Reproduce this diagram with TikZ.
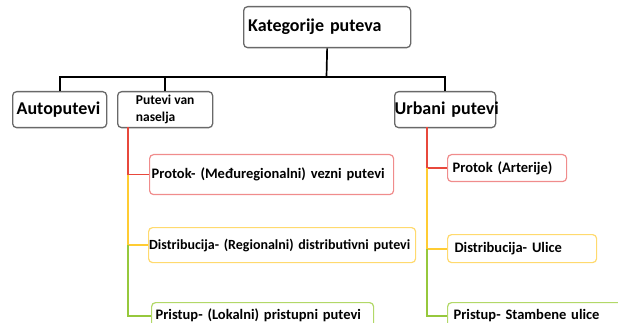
\documentclass[tikz,border=0pt]{standalone}
\usepackage{fontspec}
\setmainfont{Carlito}
\usepackage{tikz}
\usetikzlibrary{positioning}
\definecolor{lineRed}{RGB}{232,72,60}
\definecolor{boxRed}{RGB}{240,140,140}
\definecolor{lineYellow}{RGB}{255,204,51}
\definecolor{boxYellow}{RGB}{255,218,110}
\definecolor{lineGreen}{RGB}{150,200,60}
\definecolor{boxGreen}{RGB}{178,216,104}
\definecolor{boxGray}{RGB}{105,105,105}
\tikzstyle{mainBox} = [draw=boxGray, line width=1.3pt, rounded corners=4pt,
anchor=north west, align=left, minimum height=36pt]
\tikzstyle{subBox} = [line width=1.2pt, rounded corners=4pt, anchor=north west,
align=left, font=\fontsize{14.5}{16}\selectfont\bfseries]
\tikzstyle{bigText} = [font=\fontsize{18}{20}\selectfont\bfseries]
\tikzstyle{mainLine} = [draw, line width=1.7pt]
\tikzstyle{branch} = [line width=1.8pt]

\begin{document}
\begin{tikzpicture}[x=1pt, y=-1pt]
    \useasboundingbox (0,0) rectangle (618,323);
    \clip (0,0) rectangle (618,323);
    % We start by placing the top blocks
    \node [mainBox, bigText, name=kategorije, minimum height=41pt, text width=158pt,
    inner xsep=4.5pt] at (243,6) {Kategorije puteva};
    \node [mainBox, bigText, text width=86pt, inner xsep=4pt] (autoputevi) at (12,91) {\mbox{Autoputevi}};
    \node [mainBox, minimum width=95pt, inner sep=0pt,
    font=\fontsize{13.5}{17}\selectfont\bfseries] (puteviVan) at (117,91) {Putevi van\\naselja};
    \node [mainBox, bigText, text width=101pt, inner xsep=0pt] (urbani) at (394,91) {\mbox{Urbani putevi}};

    % then the left branch
    \node [subBox, draw=boxRed, text width=240pt, inner xsep=2pt, minimum height=40pt] (protokL) at (149,154)
    {\mbox{Protok- (Međuregionalni) vezni putevi}};
    \node [subBox, draw=boxYellow, text width=266pt, inner xsep=0.5pt, minimum height=35pt,
    font=\fontsize{14}{16}\selectfont\bfseries] (distribL) at (148,227)
    {\mbox{Distribucija- (Regionalni) distributivni putevi}};
    \node [subBox, draw=boxGreen, text width=214pt, inner xsep=4pt, minimum height=26pt] (pristupL) at (151,302)
    {\mbox{Pristup- (Lokalni) pristupni putevi}};

    % and the right branch
    \node [subBox, draw=boxRed, text width=109pt, inner xsep=5pt, minimum height=27pt] (protokR) at (447,154)
    {\mbox{Protok (Arterije)}};
    \node [subBox, draw=boxYellow, text width=135pt, inner xsep=7pt, minimum height=28pt] (distribR) at (447,234)
    {\mbox{Distribucija- Ulice}};
    \node [subBox, draw=boxGreen, text width=190pt, inner xsep=6pt, minimum height=26pt] (pristupR) at (447,302)
    {\mbox{Pristup- Stambene ulice}};

    \coordinate (bus) at (326.5,77);
    \coordinate (leftTop) at (128,127);
    \coordinate (rightTop) at (427,127);

    % Once the nodes are placed, connecting them is easy.
    \draw [mainLine] (kategorije.south) -- (bus);
    \draw [mainLine] (autoputevi.north) |- (urbani.north |- bus) -- (urbani.north);
    \draw [mainLine] (puteviVan.north) -- (puteviVan.north |- bus);

    \draw [branch, lineRed] (leftTop) |- (protokL.west);
    \draw [branch, lineYellow] (leftTop |- protokL.west) |- (distribL.west);
    \draw [branch, lineGreen] (leftTop |- distribL.west) |- (pristupL.west);

    \draw [branch, lineRed] (rightTop) |- (protokR.west);
    \draw [branch, lineYellow] (rightTop |- protokR.west) |- (distribR.west);
    \draw [branch, lineGreen] (rightTop |- distribR.west) |- (pristupR.west);
\end{tikzpicture}
\end{document}
